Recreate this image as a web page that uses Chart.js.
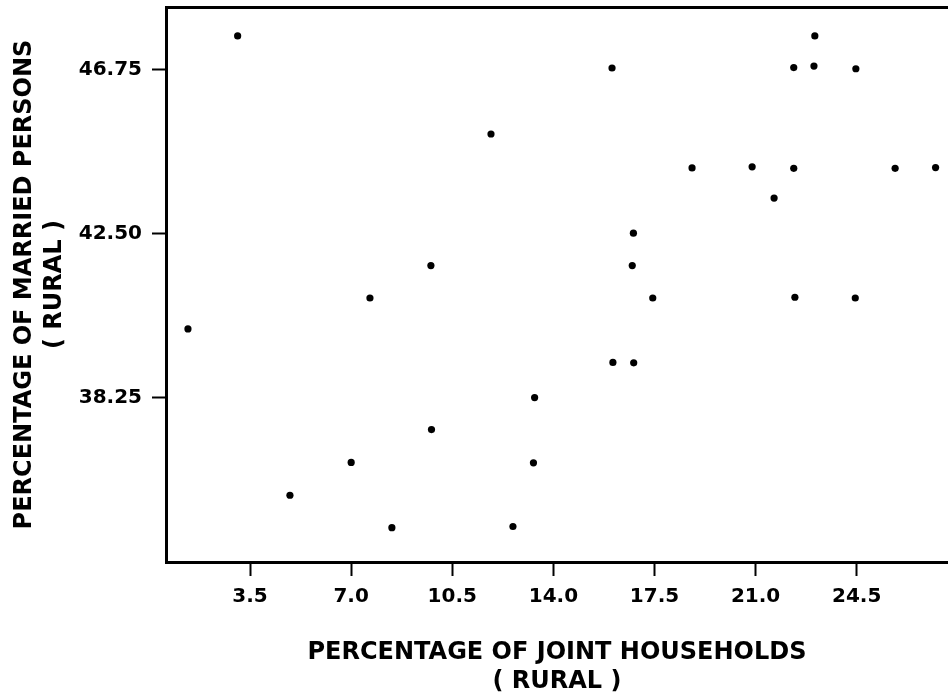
<!DOCTYPE html>
<html>
<head>
<meta charset="utf-8">
<title>Married persons vs joint households (rural)</title>
<script src="https://cdn.jsdelivr.net/npm/chart.js@4.4.1/dist/chart.umd.min.js"></script>
<style>
  html, body { margin: 0; padding: 0; background: #fff; }
  #wrap { width: 948px; height: 696px; }
</style>
</head>
<body>
<div id="wrap"><canvas id="scatter" width="948" height="696"></canvas></div>
<script>
// --- data ---
// percentage of joint households (rural)
const jointHouseholds = [
  1.35, 3.07, 4.88, 7.00, 7.65, 8.41, 9.78, 9.76, 11.84, 12.60,
  13.31, 13.35, 16.03, 16.06, 16.78, 16.73, 16.77, 17.44, 18.80, 20.88,
  21.64, 22.32, 22.32, 22.36, 23.05, 23.02, 24.47, 24.45, 25.83, 27.23
];
// percentage of married persons (rural)
const marriedPersons = [
  40.04, 47.63, 35.73, 36.58, 40.84, 34.89, 37.43, 41.68, 45.09, 34.92,
  36.57, 38.26, 46.80, 39.17, 39.16, 41.68, 42.52, 40.84, 44.21, 44.24,
  43.43, 44.20, 46.81, 40.86, 47.63, 46.85, 46.78, 40.84, 44.20, 44.22
];

const xTickValues = [3.5, 7.0, 10.5, 14.0, 17.5, 21.0, 24.5];
const xTickLabels = ['3.5', '7.0', '10.5', '14.0', '17.5', '21.0', '24.5'];
const yTickValues = [38.25, 42.50, 46.75];
const yTickLabels = ['38.25', '42.50', '46.75'];

const X_MIN = 0.59, X_MAX = 27.66;
const Y_MIN = 34.0, Y_MAX = 48.38;

const points = jointHouseholds.map((x, i) => ({ x: x, y: marriedPersons[i] }));

const tickFont = { family: 'DejaVu Sans', size: 20, weight: 'bold' };

function fixedTicks(values) {
  return scale => { scale.ticks = values.map(v => ({ value: v })); };
}
function labelFor(values, labels) {
  return v => {
    const i = values.findIndex(t => Math.abs(t - v) < 1e-6);
    return i >= 0 ? labels[i] : '';
  };
}
// fixed axis box sizes, no extra room for overhanging labels
function fixSize(prop, size) {
  return s => {
    s[prop] = size;
    s.paddingTop = 0; s.paddingBottom = 0;
    s.paddingLeft = 0; s.paddingRight = 0;
  };
}

const ctx = document.getElementById('scatter').getContext('2d');
new Chart(ctx, {
  type: 'scatter',
  data: {
    datasets: [{
      data: points,
      backgroundColor: '#000',
      borderColor: '#000',
      borderWidth: 0,
      pointRadius: 3.6,
      pointHoverRadius: 3.6
    }]
  },
  options: {
    responsive: false,
    animation: false,
    devicePixelRatio: 1,
    layout: { padding: 0, autoPadding: false },
    plugins: {
      legend: { display: false },
      tooltip: { enabled: false }
    },
    scales: {
      x: {
        type: 'linear',
        position: 'bottom',
        min: X_MIN,
        max: X_MAX,
        afterBuildTicks: fixedTicks(xTickValues),
        afterFit: fixSize('height', 134),
        grid: { display: true, drawOnChartArea: false, drawTicks: true, tickLength: 14, tickWidth: 2, tickColor: '#000' },
        border: { display: true, color: '#000', width: 3 },
        ticks: {
          color: '#000',
          font: tickFont,
          padding: 9,
          maxRotation: 0,
          autoSkip: false,
          callback: labelFor(xTickValues, xTickLabels)
        },
        title: {
          display: true,
          text: ['PERCENTAGE OF JOINT HOUSEHOLDS', '( RURAL )'],
          color: '#000',
          font: { family: 'DejaVu Sans', size: 24, weight: 'bold', lineHeight: 1.2 },
          padding: { top: 0, bottom: 0 }
        }
      },
      xTop: {
        type: 'linear',
        position: 'top',
        min: X_MIN,
        max: X_MAX,
        afterFit: fixSize('height', 7),
        grid: { display: false, drawTicks: false },
        border: { display: true, color: '#000', width: 3 },
        ticks: { display: false }
      },
      y: {
        type: 'linear',
        position: 'left',
        min: Y_MIN,
        max: Y_MAX,
        afterBuildTicks: fixedTicks(yTickValues),
        afterFit: fixSize('width', 166),
        grid: { display: true, drawOnChartArea: false, drawTicks: true, tickLength: 14, tickWidth: 2, tickColor: '#000' },
        border: { display: true, color: '#000', width: 3 },
        ticks: {
          color: '#000',
          font: tickFont,
          padding: 10,
          autoSkip: false,
          callback: labelFor(yTickValues, yTickLabels)
        },
        title: {
          display: true,
          text: ['PERCENTAGE OF MARRIED PERSONS', '( RURAL )'],
          color: '#000',
          font: { family: 'DejaVu Sans', size: 24, weight: 'bold', lineHeight: 1.25 },
          padding: { top: 10, bottom: 0 }
        }
      }
    }
  }
});
</script>
</body>
</html>
